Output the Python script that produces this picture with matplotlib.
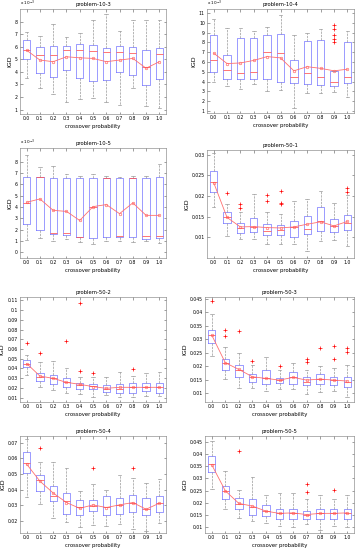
import numpy as np
import matplotlib
matplotlib.use("Agg")
import matplotlib.pyplot as plt
from matplotlib.ticker import FuncFormatter

# ----- x categories -----
PROBS = ["0.0", "0.1", "0.2", "0.3", "0.4", "0.5", "0.6", "0.7", "0.8", "0.9", "1.0"]

# ----- problem-10-3 (x 1e-3) -----
p103_lo = [3.51, 2.74, 2.22, 1.62, 1.83, 1.96, 1.62, 1.36, 2.74, 1.31, 1.10]
p103_q1 = [5.00, 3.90, 3.57, 4.16, 3.49, 3.26, 3.33, 3.96, 3.77, 2.92, 3.44]
p103_med = [5.72, 5.33, 5.33, 5.77, 5.72, 5.67, 5.59, 5.59, 5.51, 4.40, 5.46]
p103_q3 = [6.55, 5.98, 6.08, 6.08, 6.24, 6.10, 5.93, 6.03, 5.98, 5.77, 5.93]
p103_hi = [7.14, 6.88, 7.84, 6.80, 7.07, 8.10, 8.57, 7.27, 8.10, 8.10, 8.10]
p103_mean = [5.72, 4.94, 4.81, 5.20, 5.12, 5.07, 4.81, 4.94, 5.07, 4.29, 4.81]
p103_out = [[], [], [], [], [], [], [], [], [], [], []]

# ----- problem-10-4 (x 1e-3) -----
p104_lo = [3.97, 3.52, 3.26, 3.74, 3.00, 3.10, 1.32, 2.84, 2.84, 2.94, 2.42]
p104_q1 = [4.94, 4.29, 4.23, 4.29, 4.29, 3.97, 3.90, 3.74, 3.65, 3.52, 3.84]
p104_med = [6.16, 5.19, 4.87, 5.00, 7.06, 6.90, 4.48, 4.87, 4.48, 3.97, 4.45]
p104_q3 = [8.74, 6.74, 8.42, 8.42, 8.74, 8.84, 6.23, 8.16, 8.26, 5.03, 8.03]
p104_hi = [10.42, 9.45, 9.45, 9.13, 9.55, 10.74, 8.74, 9.00, 9.39, 5.10, 9.13]
p104_mean = [6.90, 5.84, 5.90, 6.16, 6.55, 6.42, 5.10, 5.52, 5.35, 5.10, 5.26]
p104_out = [[], [], [], [], [], [], [], [], [], [9.81, 9.39, 8.74, 8.35, 8.03], []]

# ----- problem-10-5 (x 1e-3) -----
p105_lo = [1.10, 1.30, 1.00, 1.19, 0.89, 0.71, 1.00, 1.00, 0.95, 1.00, 0.80]
p105_q1 = [2.49, 1.93, 1.60, 1.54, 1.39, 1.24, 1.39, 1.33, 1.39, 1.19, 1.30]
p105_med = [4.36, 6.64, 1.69, 1.69, 1.39, 4.00, 6.58, 1.48, 6.58, 1.48, 1.48]
p105_q3 = [6.64, 6.64, 6.58, 6.58, 6.52, 6.58, 6.58, 6.58, 6.58, 6.52, 6.64]
p105_hi = [8.60, 7.53, 7.61, 6.87, 6.70, 6.87, 6.70, 6.67, 6.70, 6.70, 7.76]
p105_mean = [4.41, 4.71, 3.70, 3.61, 2.81, 4.03, 4.21, 3.41, 4.36, 3.26, 3.26]
p105_out = [[], [], [], [], [], [], [], [], [], [], []]

# ----- problem-50-1 -----
p501_lo = [0.01724, 0.01025, 0.00959, 0.00959, 0.00819, 0.00819, 0.00819, 0.00654, 0.00901, 0.00926, 0.00778]
p501_q1 = [0.02095, 0.01354, 0.01107, 0.01123, 0.01041, 0.01041, 0.01008, 0.01065, 0.01148, 0.01123, 0.01173]
p501_med = [0.02342, 0.01477, 0.01230, 0.01247, 0.01148, 0.01173, 0.01247, 0.01189, 0.01395, 0.01272, 0.01354]
p501_q3 = [0.02600, 0.01601, 0.01354, 0.01453, 0.01313, 0.01288, 0.01395, 0.01519, 0.01724, 0.01436, 0.01535]
p501_hi = [0.03040, 0.01807, 0.01601, 0.02053, 0.01617, 0.01560, 0.01889, 0.01930, 0.02111, 0.01831, 0.02012]
p501_mean = [0.02325, 0.01477, 0.01247, 0.01255, 0.01230, 0.01222, 0.01247, 0.01313, 0.01370, 0.01272, 0.01379]
p501_out = [[], [0.02078], [0.01807, 0.01716], [], [0.02029, 0.01889], [0.02120, 0.01823, 0.01807],
            [], [], [], [], [0.02193, 0.02095]]

# ----- problem-50-2 -----
p502_lo = [0.0332, 0.0213, 0.0179, 0.0144, 0.0134, 0.0110, 0.0127, 0.0110, 0.0110, 0.0117, 0.0117]
p502_q1 = [0.0411, 0.0271, 0.0237, 0.0206, 0.0192, 0.0189, 0.0161, 0.0144, 0.0151, 0.0172, 0.0151]
p502_med = [0.0441, 0.0315, 0.0298, 0.0264, 0.0230, 0.0220, 0.0192, 0.0192, 0.0206, 0.0206, 0.0206]
p502_q3 = [0.0486, 0.0349, 0.0332, 0.0298, 0.0254, 0.0240, 0.0230, 0.0237, 0.0247, 0.0247, 0.0247]
p502_hi = [0.0537, 0.0469, 0.0478, 0.0400, 0.0315, 0.0315, 0.0308, 0.0366, 0.0322, 0.0349, 0.0359]
p502_mean = [0.0451, 0.0322, 0.0298, 0.0257, 0.0237, 0.0213, 0.0196, 0.0206, 0.0206, 0.0206, 0.0206]
p502_out = [[0.0663], [0.0561], [], [0.0684], [0.1076, 0.0376], [0.0349], [], [], [0.0390], [], []]

# ----- problem-50-3 -----
p503_lo = [0.02375, 0.01515, 0.01183, 0.01183, 0.01097, 0.01146, 0.01146, 0.00974, 0.01060, 0.01097, 0.00851]
p503_q1 = [0.02842, 0.01859, 0.01613, 0.01429, 0.01343, 0.01367, 0.01343, 0.01306, 0.01343, 0.01306, 0.01220]
p503_med = [0.03149, 0.02129, 0.01859, 0.01613, 0.01551, 0.01490, 0.01589, 0.01429, 0.01515, 0.01490, 0.01429]
p503_q3 = [0.03357, 0.02252, 0.02043, 0.01711, 0.01859, 0.01551, 0.01797, 0.01613, 0.01711, 0.01613, 0.01589]
p503_hi = [0.03950, 0.02720, 0.02498, 0.02040, 0.02350, 0.01859, 0.02129, 0.01859, 0.02006, 0.01920, 0.02043]
p503_mean = [0.03149, 0.02129, 0.01883, 0.01613, 0.01551, 0.01490, 0.01589, 0.01490, 0.01527, 0.01490, 0.01453]
p503_out = [[0.0441], [0.03357, 0.03112], [0.03308], [0.02203], [], [0.0200], [],
            [0.02252, 0.02153], [0.02657], [0.02743, 0.02252], [0.02657, 0.02534]]

# ----- problem-50-4 -----
p504_lo = [0.0352, 0.0307, 0.0215, 0.0193, 0.0161, 0.0172, 0.0165, 0.0178, 0.0150, 0.0135, 0.0187]
p504_q1 = [0.0509, 0.0389, 0.0324, 0.0243, 0.0237, 0.0265, 0.0237, 0.0243, 0.0259, 0.0237, 0.0259]
p504_med = [0.0570, 0.0461, 0.0357, 0.0324, 0.0287, 0.0296, 0.0287, 0.0302, 0.0317, 0.0274, 0.0313]
p504_q3 = [0.0639, 0.0496, 0.0426, 0.0378, 0.0335, 0.0335, 0.0357, 0.0346, 0.0367, 0.0346, 0.0361]
p504_hi = [0.0726, 0.0578, 0.0578, 0.0535, 0.0389, 0.0433, 0.0400, 0.0491, 0.0476, 0.0439, 0.0465]
p504_mean = [0.0563, 0.0454, 0.0378, 0.0317, 0.0280, 0.0302, 0.0285, 0.0302, 0.0317, 0.0274, 0.0313]
p504_out = [[], [0.0667], [], [], [], [0.0541], [], [], [0.0541], [], []]

# ----- problem-50-5 -----
p505_lo = [0.0256, 0.0172, 0.0138, 0.0124, 0.0117, 0.0103, 0.0100, 0.0114, 0.0086, 0.0103, 0.0100]
p505_q1 = [0.0328, 0.0217, 0.0172, 0.0151, 0.0147, 0.0131, 0.0133, 0.0131, 0.0131, 0.0131, 0.0131]
p505_med = [0.0360, 0.0249, 0.0193, 0.0183, 0.0165, 0.0156, 0.0158, 0.0151, 0.0156, 0.0156, 0.0158]
p505_q3 = [0.0394, 0.0267, 0.0221, 0.0217, 0.0189, 0.0175, 0.0175, 0.0165, 0.0175, 0.0172, 0.0175]
p505_hi = [0.0453, 0.0332, 0.0253, 0.0304, 0.0231, 0.0239, 0.0239, 0.0214, 0.0231, 0.0214, 0.0231]
p505_mean = [0.0356, 0.0249, 0.0197, 0.0186, 0.0165, 0.0156, 0.0158, 0.0151, 0.0156, 0.0156, 0.0158]
p505_out = [[], [], [0.0413], [], [], [], [], [0.0276, 0.0244], [], [0.0251], []]

# 画布布局 (像素: 左, 上, 右, 下)
FIG_W, FIG_H = 358, 550
PANELS = [
    ("problem-10-3", (20, 9, 166, 114), (0.65, 9.0), np.arange(1, 9, 1), True,
     (p103_lo, p103_q1, p103_med, p103_q3, p103_hi, p103_mean, p103_out)),
    ("problem-10-4", (207, 9, 354, 113), (0.8, 11.4), np.arange(1, 12, 1), True,
     (p104_lo, p104_q1, p104_med, p104_q3, p104_hi, p104_mean, p104_out)),
    ("problem-10-5", (20, 148, 166, 258), (-0.5, 9.2), np.arange(0, 9, 1), True,
     (p105_lo, p105_q1, p105_med, p105_q3, p105_hi, p105_mean, p105_out)),
    ("problem-50-1", (207, 150, 354, 258), (0.0049, 0.0312), np.arange(0.01, 0.0301, 0.005), False,
     (p501_lo, p501_q1, p501_med, p501_q3, p501_hi, p501_mean, p501_out)),
    ("problem-50-2", (20, 297, 166, 402), (0.0055, 0.1135), np.arange(0.01, 0.1101, 0.01), False,
     (p502_lo, p502_q1, p502_med, p502_q3, p502_hi, p502_mean, p502_out)),
    ("problem-50-3", (205, 297, 354, 402), (0.0068, 0.0456), np.arange(0.01, 0.0451, 0.005), False,
     (p503_lo, p503_q1, p503_med, p503_q3, p503_hi, p503_mean, p503_out)),
    ("problem-50-4", (20, 436, 166, 533), (0.0122, 0.0743), np.arange(0.02, 0.0701, 0.01), False,
     (p504_lo, p504_q1, p504_med, p504_q3, p504_hi, p504_mean, p504_out)),
    ("problem-50-5", (205, 436, 354, 533), (0.0075, 0.0475), np.arange(0.01, 0.0451, 0.005), False,
     (p505_lo, p505_q1, p505_med, p505_q3, p505_hi, p505_mean, p505_out)),
]

BOX_C = "#8080ff"
MED_C = "#ff5050"
MEAN_C = "#ff7070"
WHIS_C = "#8c8c8c"
FS = 3.3

plt.rcParams['font.family'] = ['DejaVu Sans']
fig = plt.figure(figsize=(FIG_W / 100, FIG_H / 100), dpi=100)

pos = np.arange(1, len(PROBS) + 1)
for title, (l, t, r, b), ylim, yticks, scaled, (lo, q1, med, q3, hi, mean, out) in PANELS:
    ax = fig.add_axes([l / FIG_W, 1 - b / FIG_H, (r - l) / FIG_W, (b - t) / FIG_H])
    stats = []
    for i in range(len(PROBS)):
        stats.append(dict(whislo=lo[i], q1=q1[i], med=med[i], q3=q3[i], whishi=hi[i],
                          fliers=out[i], label=PROBS[i]))
    ax.bxp(stats, positions=pos, widths=0.55, showfliers=True,
           boxprops=dict(color=BOX_C, lw=0.55),
           medianprops=dict(color=MED_C, lw=0.55),
           whiskerprops=dict(color=WHIS_C, lw=0.45, ls='--'),
           capprops=dict(color=WHIS_C, lw=0.45),
           capwidths=0.27,
           flierprops=dict(marker='+', markeredgecolor='red', markersize=2.5, mew=0.5))
    # 均值连线
    ax.plot(pos, mean, '-', color=MEAN_C, lw=0.6, marker='o', ms=1.8,
            mfc='none', mec=MEAN_C, mew=0.5)

    ax.set_xlim(0.5, 11.5)
    ax.set_ylim(*ylim)
    ax.set_yticks(yticks)
    ax.yaxis.set_major_formatter(FuncFormatter(lambda v, p: "%g" % round(v, 4)))
    ax.set_xticks(pos)
    ax.set_xticklabels(PROBS)
    ax.tick_params(direction='in', length=1.8, width=0.4, labelsize=FS, pad=1.5,
                   top=True, right=True, colors='#555555', labelcolor='black')
    for sp in ax.spines.values():
        sp.set_linewidth(0.4)
        sp.set_color('#777777')
    ax.set_title(title, fontsize=3.8, pad=2)
    ax.set_xlabel("crossover probability", fontsize=3.8, labelpad=2)
    ax.set_ylabel("IGD", fontsize=4.6, labelpad=2)
    if scaled:
        ax.text(0.0, 1.005, r"x 10$^{-3}$", transform=ax.transAxes,
                fontsize=3.0, va='bottom', ha='left')

fig.savefig("out.png", dpi=100)
